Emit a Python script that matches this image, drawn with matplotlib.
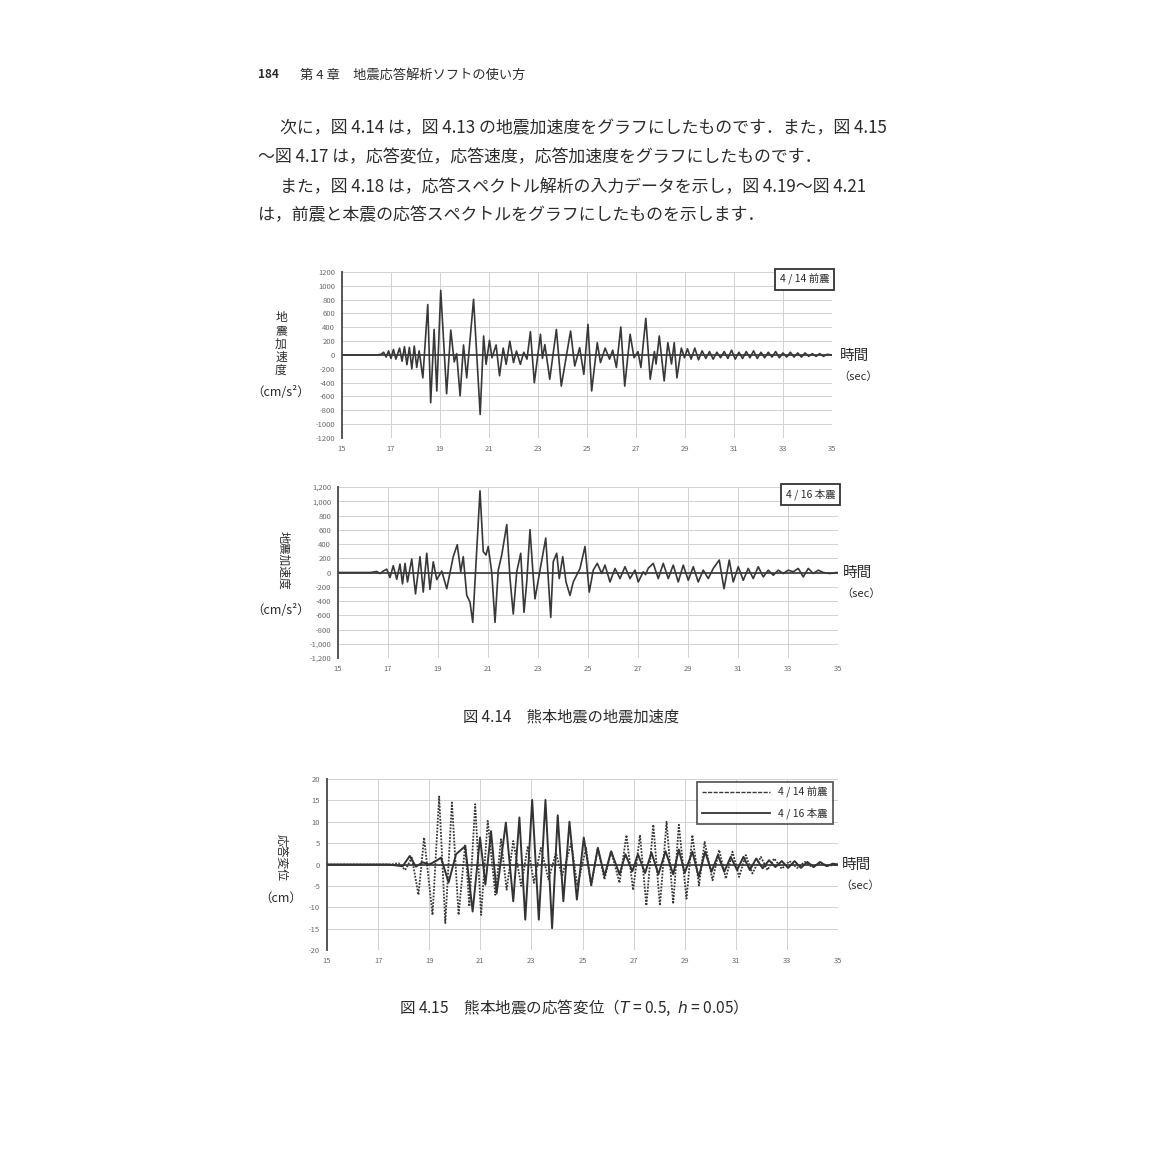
import numpy as np
import matplotlib
matplotlib.use("Agg")
import matplotlib.pyplot as plt
from matplotlib.lines import Line2D

plt.rcParams['font.family'] = ['Noto Sans CJK JP', 'DejaVu Sans']

W = H = 1150

# ---- fig 4.14 upper : 4/14 foreshock ground acceleration (cm/s2), peaks
fore_t = [15.0, 16.4, 16.6, 16.7, 16.8, 16.9, 17.0, 17.1, 17.2, 17.35, 17.45, 17.55, 17.65, 17.75,
          17.85, 17.95, 18.05, 18.15, 18.3, 18.5, 18.62, 18.76, 18.87, 19.03, 19.27, 19.44, 19.58,
          19.68, 19.82, 19.96, 20.09, 20.37, 20.64, 20.78, 20.88, 21.02, 21.12, 21.29, 21.43, 21.58,
          21.7, 21.85, 22.0, 22.12, 22.28, 22.42, 22.55, 22.69, 22.85, 23.1, 23.18, 23.28, 23.48,
          23.75, 23.95, 24.15, 24.33, 24.5, 24.7, 24.87, 25.04, 25.19, 25.42, 25.55, 25.74, 25.92,
          26.05, 26.2, 26.38, 26.54, 26.76, 26.92, 27.08, 27.2, 27.4, 27.58, 27.75, 27.82, 27.95,
          28.15, 28.3, 28.45, 28.56, 28.67, 28.85, 28.98, 29.1, 29.25, 29.4, 29.55, 29.7, 29.85,
          30.0, 30.15, 30.3, 30.45, 30.6, 30.75, 30.9, 31.05, 31.2, 31.35, 31.5, 31.65, 31.8, 31.95,
          32.1, 32.25, 32.4, 32.55, 32.7, 32.85, 33.0, 33.15, 33.3, 33.45, 33.6, 33.75, 33.9, 34.05,
          34.2, 34.35, 34.5, 34.65, 34.8, 35.0]
fore_a = [0, 0, 10, 40, -30, 60, -50, 80, -60, 100, -90, 120, -140, 110,
          -200, 130, -180, 60, -330, 730, -690, 370, -520, 935, -560, 360, -100,
          20, -590, 145, -330, 805, -860, 275, -135, 212, -40, 145, -300, 100,
          -135, 200, -110, 58, -135, 40, -60, 337, -400, 300, -50, 150, -350,
          370, -450, -30, 347, -160, 106, -280, 443, -520, 178, -110, 100, -60,
          70, -180, 405, -450, 300, -40, 50, -180, 530, -350, 50, -130, 275,
          -375, 178, -130, 178, -330, 100, -40, 90, -60, 100, -70, 60, -50,
          50, -60, 40, -40, 50, -50, 70, -60, 40, -50, 50, -40, 60, -50,
          40, -40, 40, -30, 50, -40, 30, -30, 40, -30, 30, -30, 30, -20,
          20, -20, 20, -20, 10, 0]

# ---- fig 4.14 lower : 4/16 main shock ground acceleration (cm/s2)
main_t = [15.0, 16.3, 16.55, 16.68, 16.81, 16.95, 17.08, 17.21, 17.35, 17.48, 17.58, 17.68, 17.78,
          17.95, 18.1, 18.28, 18.41, 18.55, 18.68, 18.81, 18.95, 19.15, 19.35, 19.61, 19.77, 19.91,
          20.01, 20.15, 20.28, 20.39, 20.68, 20.81, 20.92, 21.01, 21.15, 21.28, 21.41, 21.55, 21.75,
          21.88, 22.01, 22.15, 22.31, 22.44, 22.55, 22.68, 22.81, 22.88, 23.08, 23.31, 23.41, 23.51,
          23.61, 23.75, 23.85, 23.99, 24.12, 24.28, 24.41, 24.68, 24.88, 25.05, 25.21, 25.37, 25.55,
          25.68, 25.88, 26.08, 26.28, 26.48, 26.68, 26.88, 27.01, 27.21, 27.3, 27.41, 27.61, 27.81,
          28.01, 28.21, 28.41, 28.61, 28.81, 29.01, 29.21, 29.41, 29.61, 29.81, 30.01, 30.25, 30.44,
          30.65, 30.81, 31.01, 31.21, 31.41, 31.61, 31.81, 32.01, 32.21, 32.41, 32.61, 32.81, 33.01,
          33.21, 33.41, 33.61, 33.81, 34.01, 34.21, 34.41, 34.68, 34.95]
main_a = [0, 0, 15, -15, 20, 47, -71, 95, -95, 118, -160, 128, -133,
          190, -300, 222, -275, 270, -237, 150, -100, 20, -228, 222, 390, 10,
          222, -320, -417, -700, 1147, 294, 246, 365, 0, -700, 33, 246, 673,
          -85, -583, 10, 270, -560, -133, 602, -62, -370, 33, 483, -85, -630,
          152, 270, -85, 222, -133, -322, -133, 57, 365, -275, 33, 128, -14,
          104, -133, 57, -85, 81, -85, 33, -133, 10, -30, 60, 128, -85,
          128, -85, 104, -133, 104, -109, 81, -133, 33, -85, 57, 175, -228,
          175, -133, 81, -109, 57, -85, 81, -62, 33, -38, 33, -14, 33,
          10, 57, -62, 57, -14, 33, 0, -14, 0]

# ---- fig 4.15 : response displacement (cm), T = 0.5, h = 0.05
disp_fore_t = [15.0, 17.5, 17.8, 18.06, 18.32, 18.58, 18.8, 19.13, 19.39, 19.63, 19.89, 20.15, 20.41,
               20.57, 20.8, 21.03, 21.29, 21.59, 21.81, 22.03, 22.29, 22.6, 22.86, 23.1, 23.37, 23.67,
               23.96, 24.2, 24.56, 24.8, 25.14, 25.34, 25.6, 25.86, 26.12, 26.45, 26.72, 26.98, 27.25,
               27.5, 27.77, 28.03, 28.29, 28.55, 28.77, 29.07, 29.3, 29.56, 29.78, 30.09, 30.35, 30.61,
               30.87, 31.13, 31.39, 31.65, 31.98, 32.24, 32.5, 32.8, 33.1, 33.4, 33.7, 34.0, 34.3, 34.6,
               35.0]
disp_fore = [0, 0, 0.3, -1.3, 1.6, -7.1, 6.3, -11.8, 15.9, -13.7, 14.5, -11.8, 4.7,
             -9.8, 14.1, -11.8, 10.2, -7.1, 5.9, -5.9, 5.5, -5.0, 4.3, -4.3, 3.9, -3.5,
             2.7, -2.7, 5.1, -5.0, 3.9, -5.1, 3.9, -3.5, 3.1, -4.3, 6.9, -6.0, 6.9,
             -9.6, 9.3, -9.6, 10.0, -9.2, 9.3, -8.0, 6.9, -4.9, 5.3, -3.7, 3.4, -3.3,
             3.0, -2.9, 2.2, -2.1, 1.8, -1.3, 1.4, -1.0, 0.8, -0.8, 0.6, -0.6, 0.4, -0.3,
             0]
disp_main_t = [15.0, 17.4, 17.96, 18.24, 18.48, 18.74, 19.0, 19.26, 19.46, 19.76, 20.05, 20.41, 20.7,
               20.99, 21.2, 21.42, 21.64, 22.0, 22.29, 22.53, 22.76, 23.03, 23.29, 23.55, 23.81, 24.03,
               24.25, 24.49, 24.78, 25.05, 25.34, 25.6, 25.86, 26.12, 26.45, 26.68, 26.95, 27.17, 27.45,
               27.7, 27.97, 28.25, 28.55, 28.77, 29.0, 29.3, 29.55, 29.8, 30.05, 30.3, 30.55, 30.8,
               31.05, 31.3, 31.55, 31.8, 32.05, 32.3, 32.55, 32.8, 33.05, 33.3, 33.55, 33.8, 34.05,
               34.3, 34.55, 34.8, 35.0]
disp_main = [0, 0, -0.4, 2.0, -0.5, 0.5, 0, 0.8, 1.6, -4.2, 2.4, 4.3, -11.0,
             6.3, -4.7, 7.8, -6.7, 9.8, -8.6, 11.0, -12.9, 15.1, -12.9, 15.1, -14.9, 11.5,
             -8.6, 10.0, -8.2, 6.3, -4.7, 3.9, -2.7, 3.1, -2.3, 2.4, -1.6, 2.4, -2.0,
             2.8, -2.3, 3.1, -2.3, 3.5, -2.0, 3.0, -2.9, 3.0, -1.7, 2.2, -1.7, 1.8,
             -1.3, 1.8, -1.3, 1.4, -0.9, 1.0, -0.6, 0.8, -0.8, 0.8, -0.8, 0.6, -0.6,
             0.6, -0.4, 0.2, 0]

x_ticks = list(range(15, 36, 2))
acc_ticks = list(range(-1200, 1201, 200))
disp_ticks = list(range(-20, 21, 5))

ink = '#2b2b2b'
wave = '#383838'

fig = plt.figure(figsize=(11.5, 11.5), dpi=100, facecolor='white')


def px_axes(left, top, right, bottom):
    return fig.add_axes([left / W, 1 - bottom / H, (right - left) / W, (bottom - top) / H])


def ftext(x, y, s, **kw):
    kw.setdefault('color', ink)
    return fig.text(x / W, 1 - y / H, s, **kw)


def style(ax, yticks, fmt):
    ax.set_xlim(15, 35)
    ax.set_ylim(yticks[0], yticks[-1])
    ax.set_xticks(x_ticks)
    ax.set_yticks(yticks)
    ax.set_yticklabels([fmt(v) for v in yticks])
    ax.grid(True, color='#d2d2d2', lw=0.7)
    ax.set_axisbelow(True)
    for s in ['top', 'right', 'bottom']:
        ax.spines[s].set_visible(False)
    ax.spines['left'].set_color('#555555')
    ax.spines['left'].set_linewidth(1.4)
    ax.axhline(0, color='#444444', lw=1.3, zorder=1)
    ax.tick_params(length=0, labelsize=5.5, colors='#6a6a6a', pad=5)


# ---------------- page text
ftext(258, 75, '184', fontsize=8.5, fontweight='bold', va='center')
ftext(300, 75, '第 4 章　地震応答解析ソフトの使い方', fontsize=9.5, va='center')

body = [
    (280, 128, '次に，図 4.14 は，図 4.13 の地震加速度をグラフにしたものです．また，図 4.15'),
    (258, 157, '〜図 4.17 は，応答変位，応答速度，応答加速度をグラフにしたものです．'),
    (280, 187, 'また，図 4.18 は，応答スペクトル解析の入力データを示し，図 4.19〜図 4.21'),
    (258, 215, 'は，前震と本震の応答スペクトルをグラフにしたものを示します．'),
]
for x, y, s in body:
    ftext(x, y, s, fontsize=12.2, va='center')

# ---------------- fig 4.14 upper
ax1 = px_axes(342, 272, 832, 438)
style(ax1, acc_ticks, lambda v: f'{v}')
ax1.plot(fore_t, fore_a, color=wave, lw=1.2, zorder=3)
ax1.text(0.995, 0.99, '4 / 14 前震', transform=ax1.transAxes, ha='right', va='top', fontsize=7.5,
         color=ink, bbox=dict(boxstyle='square,pad=0.45', fc='white', ec='#333333', lw=1.3), zorder=5)
for i, ch in enumerate('地震加速度'):
    ftext(281, 318 + i * 13, ch, fontsize=8.5, ha='center', va='center')
ftext(281, 392, '（cm/s²）', fontsize=9, ha='center', va='center')
ftext(840, 356, '時間', fontsize=10.5, va='center')
ftext(838, 377, '（sec）', fontsize=8, va='center')

# ---------------- fig 4.14 lower
ax2 = px_axes(338, 487, 838, 658)
style(ax2, acc_ticks, lambda v: f'{v:,}')
ax2.plot(main_t, main_a, color=wave, lw=1.2, zorder=3)
ax2.text(0.995, 0.99, '4 / 16 本震', transform=ax2.transAxes, ha='right', va='top', fontsize=7.5,
         color=ink, bbox=dict(boxstyle='square,pad=0.45', fc='white', ec='#333333', lw=1.3), zorder=5)
ftext(283, 560, '地震加速度', fontsize=8.5, ha='center', va='center', rotation=-90)
ftext(281, 610, '（cm/s²）', fontsize=9, ha='center', va='center')
ftext(843, 573, '時間', fontsize=10.5, va='center')
ftext(841, 594, '（sec）', fontsize=8, va='center')

ftext(571, 717, '図 4.14　熊本地震の地震加速度', fontsize=11, ha='center', va='center')

# ---------------- fig 4.15
ax3 = px_axes(327, 779, 838, 950)
style(ax3, disp_ticks, lambda v: f'{v}')
ax3.plot(disp_fore_t, disp_fore, color=wave, lw=1.3, ls=(0, (1, 0.8)), zorder=3)
ax3.plot(disp_main_t, disp_main, color='#333333', lw=1.4, zorder=4)
handles = [Line2D([], [], color=wave, lw=1.0, ls=(0, (3, 1))),
           Line2D([], [], color='#333333', lw=1.3)]
leg = ax3.legend(handles, ['4 / 14 前震', '4 / 16 本震'], loc='upper right',
                 bbox_to_anchor=(1.0, 1.015), fontsize=7.5, handlelength=6.5, frameon=True,
                 fancybox=False, borderpad=0.5, labelspacing=0.9)
leg.get_frame().set_edgecolor('#333333')
leg.get_frame().set_linewidth(1.3)
for t in leg.get_texts():
    t.set_color(ink)
ftext(281, 857, '応答変位', fontsize=8.5, ha='center', va='center', rotation=-90)
ftext(281, 898, '（cm）', fontsize=9, ha='center', va='center')
ftext(842, 865, '時間', fontsize=10.5, va='center')
ftext(840, 886, '（sec）', fontsize=8, va='center')

ftext(569, 1008, '図 4.15　熊本地震の応答変位（$T$ = 0.5,  $h$ = 0.05）', fontsize=11.2,
      ha='center', va='center')

fig.savefig('out.png', dpi=100, facecolor='white')
